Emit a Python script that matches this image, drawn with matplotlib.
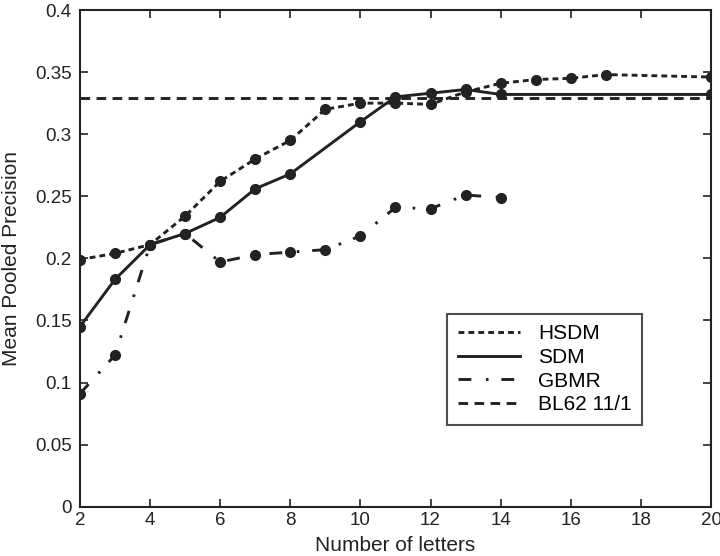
import matplotlib
matplotlib.use("Agg")
import matplotlib.pyplot as plt

plt.rcParams['font.family'] = ['Liberation Sans', 'DejaVu Sans']

hsdm_x = [2, 3, 4, 5, 6, 7, 8, 9, 10, 11, 12, 13, 14, 15, 16, 17, 20]
hsdm_y = [0.199, 0.204, 0.211, 0.234, 0.262, 0.280, 0.295, 0.320, 0.325, 0.325,
          0.324, 0.334, 0.341, 0.344, 0.345, 0.348, 0.346]

sdm_x = [2, 3, 4, 5, 6, 7, 8, 10, 11, 12, 13, 14, 20]
sdm_y = [0.145, 0.183, 0.211, 0.220, 0.233, 0.256, 0.268, 0.310, 0.330, 0.333,
         0.336, 0.332, 0.332]

gbmr_x = [2, 3, 4, 5, 6, 7, 8, 9, 10, 11, 12, 13, 14]
gbmr_y = [0.091, 0.122, 0.211, 0.220, 0.197, 0.203, 0.205, 0.207, 0.218, 0.241,
          0.240, 0.251, 0.249]

bl62_x = [2, 20]
bl62_y = [0.329, 0.329]

x_ticks = [2, 4, 6, 8, 10, 12, 14, 16, 18, 20]
y_ticks = [0, 0.05, 0.1, 0.15, 0.2, 0.25, 0.3, 0.35, 0.4]
y_tick_labels = ["0", "0.05", "0.1", "0.15", "0.2", "0.25", "0.3", "0.35", "0.4"]

fig = plt.figure(figsize=(7.2, 5.56), dpi=100)
ax = fig.add_axes([0.111, 0.0887, 0.8765, 0.8933])

c = '#222222'
lw = 2.1
ms = 7
ax.plot(hsdm_x, hsdm_y, color=c, lw=lw, linestyle=(0, (2.0, 1.4)), marker='o',
        markersize=ms, label='HSDM')
ax.plot(sdm_x, sdm_y, color=c, lw=lw, linestyle='-', marker='o',
        markersize=ms, label='SDM')
ax.plot(gbmr_x, gbmr_y, color=c, lw=lw, linestyle=(0, (4.4, 5.0, 0.9, 4.4)), marker='o',
        markersize=ms, label='GBMR')
ax.plot(bl62_x, bl62_y, color=c, lw=lw, linestyle=(0, (3.3, 2.2)), label='BL62 11/1')

ax.set_xlim(2, 20)
ax.set_ylim(0, 0.4)
ax.set_xticks(x_ticks)
ax.set_xticklabels([str(v) for v in x_ticks])
ax.set_yticks(y_ticks)
ax.set_yticklabels(y_tick_labels)
ax.tick_params(direction='in', length=6, width=1.2, top=True, right=True,
               labelsize=13.5, colors=c)
ax.tick_params(axis='x', pad=4)
ax.tick_params(axis='y', pad=6)
for s in ax.spines.values():
    s.set_linewidth(1.5)
    s.set_color(c)

ax.set_xlabel('Number of letters', fontsize=15, color=c, labelpad=5)
ax.set_ylabel('Mean Pooled Precision', fontsize=15, color=c, labelpad=10)

leg = ax.legend(loc='upper left', bbox_to_anchor=(0.582, 0.388), frameon=True,
                fancybox=False, edgecolor=c, fontsize=15, handlelength=3.0,
                labelspacing=0.22, borderpad=0.5, handletextpad=0.85,
                borderaxespad=0)
leg.get_frame().set_linewidth(1.5)
for h in leg.legend_handles:
    h.set_marker('')

fig.savefig('out.png', dpi=100)
